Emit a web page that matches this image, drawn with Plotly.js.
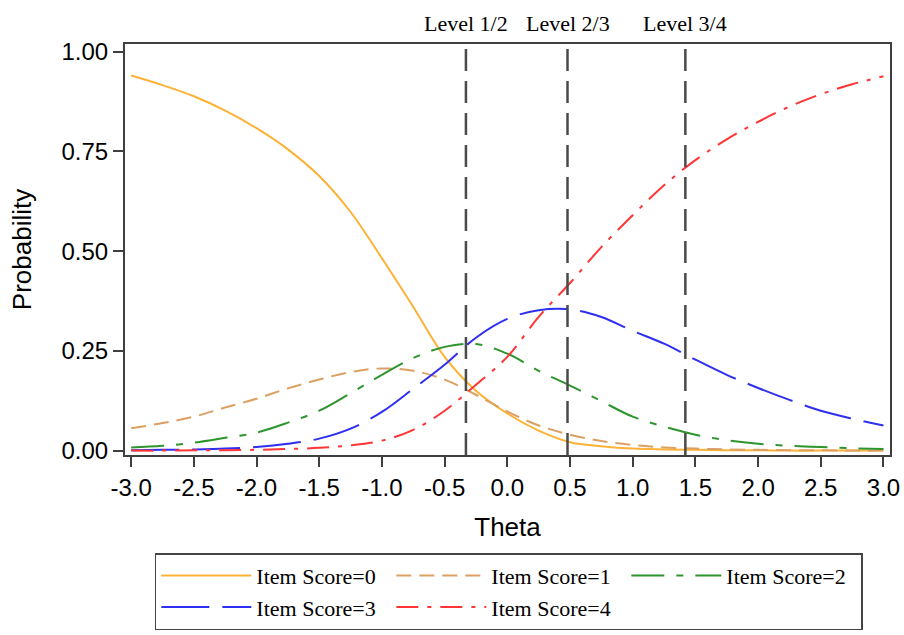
<!DOCTYPE html>
<html>
<head>
<meta charset="utf-8">
<script src="https://cdn.plot.ly/plotly-3.0.1.min.js"></script>
<style>
  html, body { margin: 0; padding: 0; background: #ffffff; }
  #chart { width: 904px; height: 635px; }
</style>
</head>
<body>
<div id="chart"></div>
<script>
// Category response curves for one item along the theta scale
const theta = [-3.00, -2.75, -2.50, -2.25, -2.00, -1.75, -1.50, -1.25, -1.00, -0.75, -0.50, -0.25,
               0.00, 0.25, 0.50, 0.75, 1.00, 1.25, 1.50, 1.75, 2.00, 2.25, 2.50, 2.75, 3.00];

const score0 = [0.940, 0.916, 0.888, 0.852, 0.808, 0.755, 0.688, 0.598, 0.482, 0.360, 0.235, 0.150,
                0.093, 0.050, 0.021, 0.011, 0.005, 0.003, 0.002, 0.001, 0.001, 0.000, 0.000, 0.000, 0.000];
const score1 = [0.056, 0.069, 0.085, 0.108, 0.130, 0.156, 0.178, 0.197, 0.206, 0.200, 0.178, 0.140,
                0.098, 0.063, 0.040, 0.024, 0.014, 0.008, 0.005, 0.003, 0.002, 0.001, 0.001, 0.000, 0.000];
const score2 = [0.008, 0.012, 0.020, 0.032, 0.045, 0.070, 0.100, 0.144, 0.190, 0.232, 0.260, 0.267,
                0.243, 0.200, 0.163, 0.124, 0.085, 0.060, 0.040, 0.026, 0.017, 0.012, 0.009, 0.006, 0.004];
const score3 = [0.001, 0.002, 0.003, 0.005, 0.009, 0.017, 0.030, 0.055, 0.097, 0.155, 0.215, 0.283,
                0.330, 0.352, 0.354, 0.335, 0.300, 0.268, 0.228, 0.190, 0.157, 0.127, 0.100, 0.080, 0.063];
const score4 = [0.000, 0.000, 0.001, 0.001, 0.002, 0.004, 0.007, 0.013, 0.025, 0.052, 0.100, 0.165,
                0.235, 0.335, 0.420, 0.510, 0.590, 0.665, 0.728, 0.780, 0.824, 0.862, 0.893, 0.918, 0.938];

const seriesNames = ['Item Score=0', 'Item Score=1', 'Item Score=2', 'Item Score=3', 'Item Score=4'];

// Cut points between performance levels
const levelCuts = [-0.33, 0.48, 1.42];
const levelLabels = ['Level 1/2', 'Level 2/3', 'Level 3/4'];

const xTicks = [-3.0, -2.5, -2.0, -1.5, -1.0, -0.5, 0.0, 0.5, 1.0, 1.5, 2.0, 2.5, 3.0];
const yTicks = [0.00, 0.25, 0.50, 0.75, 1.00];

const lineStyles = [
  { color: '#FDB236', width: 2, dash: 'solid' },
  { color: '#DCA063', width: 2, dash: '15px,8px' },
  { color: '#2E952E', width: 2, dash: '33px,12px,7px,12px' },
  { color: '#2F2FF2', width: 2, dash: '48px,13px' },
  { color: '#FF3535', width: 2, dash: '22px,9px,4px,9px' }
];

const series = [score0, score1, score2, score3, score4];

const traces = series.map((ys, i) => ({
  type: 'scatter',
  mode: 'lines',
  x: theta,
  y: ys,
  name: seriesNames[i],
  line: Object.assign({ shape: 'spline', smoothing: 1 }, lineStyles[i]),
  hoverinfo: 'x+y+name'
}));

const sans = '"Liberation Sans", Arial, sans-serif';
const serif = '"Liberation Serif", "Times New Roman", serif';
const frameColor = '#3f3f3f';

const shapes = levelCuts.map(c => ({
  type: 'line', xref: 'x', yref: 'paper',
  x0: c, x1: c, y0: 0, y1: 1,
  line: { color: '#4a4a4a', width: 2.5, dash: '22px,10px' }
}));

const annotations = levelCuts.map((c, i) => ({
  xref: 'x', yref: 'paper', x: c, y: 1.051,
  xanchor: 'center', yanchor: 'middle',
  text: levelLabels[i], showarrow: false,
  font: { family: serif, size: 22, color: '#000000' }
}));

const layout = {
  width: 904,
  height: 635,
  margin: { l: 125, r: 14, t: 44, b: 180, pad: 0 },
  paper_bgcolor: '#ffffff',
  plot_bgcolor: '#ffffff',
  showlegend: true,
  xaxis: {
    range: [-3.049, 3.052],
    tickmode: 'array', tickvals: xTicks,
    ticktext: xTicks.map(v => v.toFixed(1)),
    ticks: 'outside', ticklen: 10, tickwidth: 2, tickcolor: frameColor,
    showline: true, linewidth: 2, linecolor: frameColor, mirror: true,
    showgrid: false, zeroline: false,
    automargin: 'bottom',
    tickfont: { family: sans, size: 24, color: '#000000' },
    title: { text: 'Theta', font: { family: sans, size: 26, color: '#000000' }, standoff: 18 }
  },
  yaxis: {
    range: [-0.011, 1.019],
    tickmode: 'array', tickvals: yTicks,
    ticktext: yTicks.map(v => v.toFixed(2)),
    ticks: 'outside', ticklen: 10, tickwidth: 2, tickcolor: frameColor,
    showline: true, linewidth: 2, linecolor: frameColor, mirror: true,
    showgrid: false, zeroline: false,
    automargin: 'left',
    tickfont: { family: sans, size: 24, color: '#000000' },
    title: { text: 'Probability', font: { family: sans, size: 26, color: '#000000' }, standoff: 22 }
  },
  legend: {
    orientation: 'h',
    xref: 'paper', x: 0.039, xanchor: 'left',
    yref: 'container', y: 0.129, yanchor: 'top',
    bordercolor: '#444444', borderwidth: 1.5,
    bgcolor: '#ffffff',
    itemwidth: 90,
    entrywidth: 130, entrywidthmode: 'pixels',
    font: { family: serif, size: 22, color: '#000000' },
    traceorder: 'normal'
  },
  shapes: shapes,
  annotations: annotations
};

Plotly.newPlot('chart', traces, layout, { displayModeBar: false, staticPlot: true });
</script>
</body>
</html>
